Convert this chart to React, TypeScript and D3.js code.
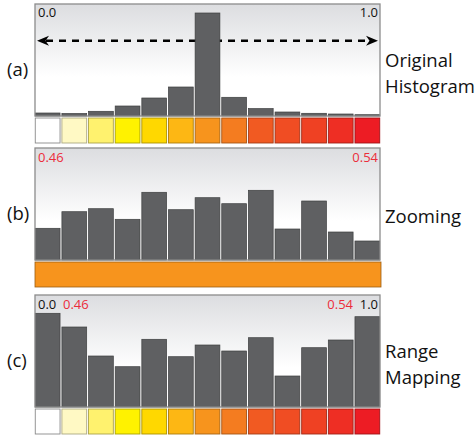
import { useEffect, useRef } from 'react';
import * as d3 from 'd3';

// bin heights (arbitrary units, frame height ~112)
const originalCounts = [3, 2.5, 4.7, 10, 18, 29, 103, 18.7, 7.4, 4, 2.7, 2, 1.3];
const zoomedCounts = [31.7, 48.3, 51.3, 40.7, 67.7, 50.3, 62.3, 56.3, 69.7, 31, 59, 28, 19];
const mappedCounts = [93.7, 80, 51, 40.3, 67.7, 50.3, 62, 56, 69.3, 31, 59.3, 67, 90.3];

const colormap = [
  '#ffffff', '#fff9c4', '#fff26e', '#fff200', '#ffd800', '#fdb714', '#f7941d',
  '#f47c20', '#f15a22', '#f04d23', '#ef4123', '#ee2e24', '#ed1c24',
];
const zoomColor = '#f7941d';

const panelLetters = ['(a)', '(b)', '(c)'];
const panelTitles = [['Original', 'Histogram'], ['Zooming'], ['Range', 'Mapping']];

const W = 476;
const H = 438;
const FONT = "'Open Sans', 'DejaVu Sans', sans-serif";
const RED = '#ec2d3a';

export default function App() {
  const svgRef = useRef<SVGSVGElement>(null);

  useEffect(() => {
    if (!svgRef.current) return;
    const svg = d3.select(svgRef.current);
    svg.selectAll('*').remove();

    const left = 35;
    const right = 380;
    const frameH = 112;
    const tops = [4, 148, 295];

    const x = d3.scaleBand<number>()
      .domain(d3.range(13))
      .range([left, right])
      .paddingInner(0.07)
      .paddingOuter(0.01);

    const defs = svg.append('defs');
    const grad = defs.append('linearGradient')
      .attr('id', 'bg')
      .attr('x1', 0).attr('y1', 0).attr('x2', 0).attr('y2', 1);
    grad.append('stop').attr('offset', '0%').attr('stop-color', '#dcdde0');
    grad.append('stop').attr('offset', '65%').attr('stop-color', '#ffffff');
    grad.append('stop').attr('offset', '100%').attr('stop-color', '#ffffff');

    const datasets = [originalCounts, zoomedCounts, mappedCounts];

    // dashed double arrow in (a), sits behind the bars
    const drawArrow = (g: d3.Selection<SVGGElement, unknown, null, undefined>) => {
      const ay = 40.7;
      g.append('line')
        .attr('x1', 46)
        .attr('x2', 370)
        .attr('y1', ay)
        .attr('y2', ay)
        .attr('stroke', '#000')
        .attr('stroke-width', 2.6)
        .attr('stroke-dasharray', '7,6');
      const head = (tip: number, dir: number) => {
        const path = d3.path();
        path.moveTo(tip, ay);
        path.lineTo(tip - dir * 12, ay - 5);
        path.lineTo(tip - dir * 8.5, ay);
        path.lineTo(tip - dir * 12, ay + 5);
        path.closePath();
        g.append('path').attr('d', path.toString()).attr('fill', '#000');
      };
      head(37, -1);
      head(378, 1);
    };

    datasets.forEach((counts, p) => {
      const top = tops[p];
      const base = top + frameH;
      const y = d3.scaleLinear().domain([0, frameH]).range([base, top]);
      const g = svg.append('g');

      // frame background
      g.append('rect')
        .attr('x', left)
        .attr('y', top)
        .attr('width', right - left)
        .attr('height', frameH)
        .attr('fill', 'url(#bg)');

      if (p === 0) drawArrow(g);

      // bars
      g.selectAll('.bar')
        .data(counts)
        .enter().append('rect')
        .attr('class', 'bar')
        .attr('x', (_d, i) => x(i) || 0)
        .attr('y', d => y(d))
        .attr('width', x.bandwidth())
        .attr('height', d => base - y(d))
        .attr('fill', '#5f6062')
        .attr('stroke', '#3e3f40')
        .attr('stroke-width', 0.7);

      // frame border
      g.append('rect')
        .attr('x', left)
        .attr('y', top)
        .attr('width', right - left)
        .attr('height', frameH)
        .attr('fill', 'none')
        .attr('stroke', '#8c8c8c')
        .attr('stroke-width', 1.3);

      // colour strip
      const stripY = base + 2;
      const stripH = 25;
      if (p === 1) {
        g.append('rect')
          .attr('x', left)
          .attr('y', stripY)
          .attr('width', right - left + 1)
          .attr('height', stripH)
          .attr('fill', zoomColor)
          .attr('stroke', d3.color(zoomColor)!.darker(1.3).formatHex())
          .attr('stroke-width', 0.8);
      } else {
        g.selectAll('.cell')
          .data(colormap)
          .enter().append('rect')
          .attr('class', 'cell')
          .attr('x', (_d, i) => x(i) || 0)
          .attr('y', stripY)
          .attr('width', x.bandwidth())
          .attr('height', stripH)
          .attr('fill', d => d)
          .attr('stroke', d => (d === '#ffffff' ? '#8a8a8a' : d3.color(d)!.darker(1.1).formatHex()))
          .attr('stroke-width', 0.9);
      }

      // panel letter
      svg.append('text')
        .attr('x', 7)
        .attr('y', top + 72)
        .style('font-family', FONT)
        .style('font-size', '18.5px')
        .style('fill', '#111')
        .text(panelLetters[p]);

      // title on the right
      const lines = panelTitles[p];
      const firstY = lines.length === 1 ? top + 75 : top + 63;
      lines.forEach((line, k) => {
        svg.append('text')
          .attr('x', 385)
          .attr('y', firstY + k * 26)
          .style('font-family', FONT)
          .style('font-size', '18.5px')
          .style('fill', '#111')
          .text(line);
      });
    });

    const label = (tx: number, ty: number, txt: string, color: string, anchor: string) => {
      svg.append('text')
        .attr('x', tx)
        .attr('y', ty)
        .attr('text-anchor', anchor)
        .style('font-family', FONT)
        .style('font-size', '13px')
        .style('fill', color)
        .text(txt);
    };

    label(38, 17, '0.0', '#111', 'start');
    label(378, 17, '1.0', '#111', 'end');
    label(38, 162, '0.46', RED, 'start');
    label(378, 162, '0.54', RED, 'end');
    label(38, 309, '0.0', '#111', 'start');
    label(63, 309, '0.46', RED, 'start');
    label(353, 309, '0.54', RED, 'end');
    label(378, 309, '1.0', '#111', 'end');
  }, []);

  return (
    <svg
      ref={svgRef}
      width={W}
      height={H}
      style={{ position: 'absolute', left: 0, top: 0, background: '#fff', display: 'block' }}
    />
  );
}
